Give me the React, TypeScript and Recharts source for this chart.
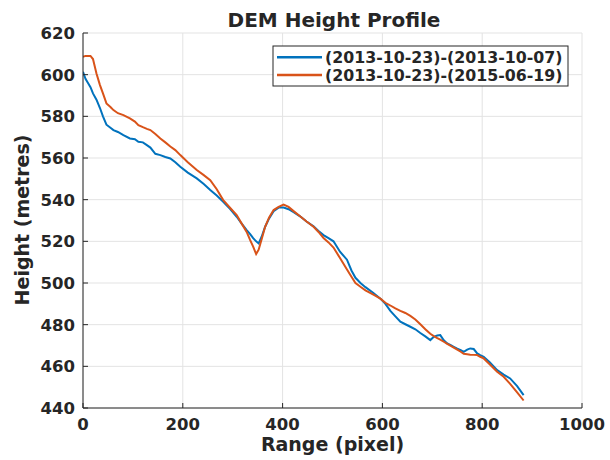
import React from 'react';
import { LineChart, Line, XAxis, YAxis, CartesianGrid } from 'recharts';

const xs = [0,5,10,15,20,27,34,40,47,55,61,70,81,94,104,111,120,128,135,145,155,165,175,185,195,210,228,242,255,268,281,295,308,318,328,335,341,347,352,358,365,373,382,392,402,412,422,435,448,462,472,482,492,502,515,529,538,546,556,566,582,596,606,616,626,636,646,656,666,676,686,696,703,710,716,723,730,737,743,750,757,763,770,776,783,790,796,803,815,830,843,856,870,883];

const blueVals = [601.4,598,596,594,591,588,584,580,576,574.5,573.4,572.5,571,569.4,569,567.8,567.5,566.2,565,562,561.4,560.5,559.8,558,555.8,553,550.2,547.5,544.6,542,539,535.5,531.8,528.5,525.4,523.5,521.5,520,519,522.2,527,531,534.5,536.2,536.2,535.4,534,532,529.5,527.2,525,523,521.5,520,515,511.2,506,502.5,500,498,495.2,492.5,490,486.6,484,481.4,480.2,479,477.8,476,474.4,472.6,474.2,474.8,475,472.5,471,470.2,469.4,468.5,467.8,467,468,468.6,468.3,466.2,465.4,464.6,462,458.2,456,454.2,450.5,446.2];

const orangeVals = [608.6,609,609,609,607.5,600.6,595,591,586.2,584.5,583,581.5,580.6,579,577.5,575.8,574.8,574,573.4,571.5,569.4,567.5,565.5,563.8,561.4,558,554.2,551.8,549.4,545,539.8,536,532.6,528.5,524.5,520.6,517.5,513.9,516,521,527,531.5,535,536.5,537.6,536.5,534.5,532,529.5,527,524.5,521.6,519.5,517,512,506.5,503,500,498.2,496.5,494.4,492.5,490.5,489.2,487.8,486.6,485.6,484.2,482.5,480.2,477.8,475.6,474.5,473.5,472.8,471.8,470.8,469.8,469,468,467,466,465.8,465.6,465.5,465.4,464.6,463.8,461,457.4,455,451.6,447.5,443.6];

const xTicks = [0, 200, 400, 600, 800, 1000];
const yTicks = [440, 460, 480, 500, 520, 540, 560, 580, 600, 620];
const seriesNames = ['(2013-10-23)-(2013-10-07)', '(2013-10-23)-(2015-06-19)'];
const seriesColors = ['#0072BD', '#D95319'];
const titleText = 'DEM Height Profile';
const xLabel = 'Range (pixel)';
const yLabel = 'Height (metres)';

const rows = xs.map((x, i) => ({ x, blue: blueVals[i], orange: orangeVals[i] }));

const FONT = '"DejaVu Sans", sans-serif';
const INK = '#262626';
const tickStyle = { fill: INK, fontSize: 16.5, fontWeight: 700, fontFamily: FONT };

export default function App() {
  return (
    <div style={{ position: 'absolute', left: 0, top: 0, width: 610, height: 460, background: '#fff' }}>
      <LineChart width={610} height={460} data={rows} margin={{ top: 33, right: 28, left: 0, bottom: 0 }}>
        <CartesianGrid stroke="#e3e3e3" strokeWidth={1} ticks={undefined} />
        <XAxis
          dataKey="x" type="number" domain={[0, 1000]} ticks={xTicks} height={52}
          stroke={INK} tickSize={-5} tickMargin={15} tick={tickStyle} allowDataOverflow
        />
        <XAxis
          xAxisId="top" orientation="top" dataKey="x" type="number" domain={[0, 1000]} ticks={xTicks}
          height={0} stroke={INK} tickSize={-5} tick={() => <g />} allowDataOverflow
        />
        <YAxis
          type="number" domain={[440, 620]} ticks={yTicks} width={83}
          stroke={INK} tickSize={-5} tickMargin={13} tick={tickStyle} allowDataOverflow
        />
        <YAxis
          yAxisId="right" orientation="right" type="number" domain={[440, 620]} ticks={yTicks} width={0}
          stroke={INK} tickSize={-5} tick={() => <g />} allowDataOverflow
        />
        <Line type="linear" dataKey="blue" stroke={seriesColors[0]} strokeWidth={2} dot={false} isAnimationActive={false} />
        <Line type="linear" dataKey="orange" stroke={seriesColors[1]} strokeWidth={2} dot={false} isAnimationActive={false} />
      </LineChart>
      <svg width={610} height={460} style={{ position: 'absolute', left: 0, top: 0, pointerEvents: 'none' }}>
        <text x={334} y={27} textAnchor="middle" fill={INK} fontSize={20} fontWeight={700} fontFamily={FONT}>{titleText}</text>
        <text x={332.5} y={451} textAnchor="middle" fill={INK} fontSize={19} fontWeight={700} fontFamily={FONT}>{xLabel}</text>
        <text transform="translate(29,220) rotate(-90)" textAnchor="middle" fill={INK} fontSize={19} fontWeight={700} fontFamily={FONT}>{yLabel}</text>
        <rect x={273} y={46} width={295} height={40} fill="#fff" stroke={INK} strokeWidth={1} />
        {seriesNames.map((name, i) => (
          <g key={name}>
            <line x1={277} x2={322} y1={57.3 + i * 17.7} y2={57.3 + i * 17.7} stroke={seriesColors[i]} strokeWidth={2.5} />
            <text x={325} y={63 + i * 17.7} fill={INK} fontSize={15.8} fontWeight={700} fontFamily={FONT}>{name}</text>
          </g>
        ))}
      </svg>
    </div>
  );
}
